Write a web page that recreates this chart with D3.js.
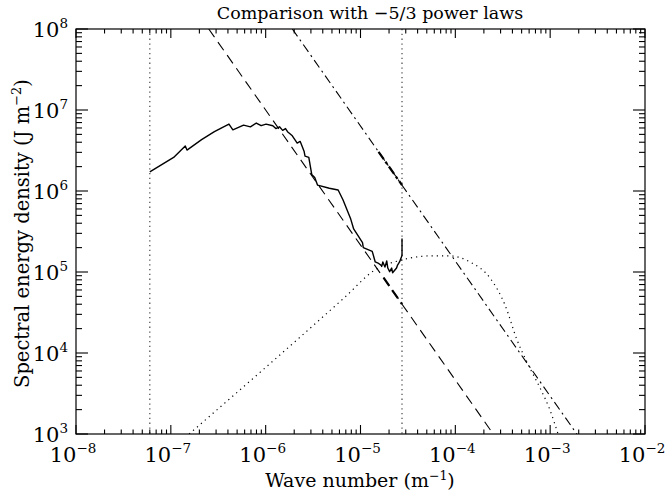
<!DOCTYPE html>
<html>
<head>
<meta charset="utf-8">
<script src="https://cdnjs.cloudflare.com/ajax/libs/d3/7.8.5/d3.min.js"></script>
<style>
  body { margin: 0; background: #fff; }
  text { font-family: "DejaVu Serif", serif; fill: #000; }
</style>
</head>
<body>
<svg id="chart" width="668" height="491"></svg>
<script>
// observed spectrum
var waveNumber = [6.0e-8, 1.07e-7, 1.42e-7, 1.48e-7, 2.11e-7, 2.88e-7, 4.10e-7, 4.51e-7, 5.85e-7, 6.91e-7,
  7.96e-7, 8.96e-7, 1.01e-6, 1.19e-6, 1.28e-6, 1.40e-6, 1.51e-6, 1.62e-6, 1.70e-6, 1.91e-6,
  2.15e-6, 2.31e-6, 2.54e-6, 2.60e-6, 2.85e-6, 3.06e-6, 3.29e-6, 3.53e-6, 4.69e-6, 5.81e-6,
  6.53e-6, 7.89e-6, 8.47e-6, 1.05e-5, 1.07e-5, 1.33e-5, 1.43e-5, 1.53e-5, 1.68e-5, 1.72e-5,
  1.81e-5, 1.89e-5, 1.94e-5, 2.03e-5, 2.13e-5, 2.18e-5, 2.40e-5, 2.46e-5, 2.58e-5, 2.74e-5, 2.74e-5];
var energy = [1.72e6, 2.6e6, 3.6e6, 3.2e6, 4.3e6, 5.4e6, 6.7e6, 5.7e6, 6.5e6, 6.2e6,
  6.9e6, 6.4e6, 6.7e6, 6.4e6, 5.9e6, 6.2e6, 5.6e6, 5.9e6, 5.4e6, 4.8e6,
  3.9e6, 4.1e6, 3.1e6, 2.7e6, 2.6e6, 1.6e6, 1.47e6, 1.18e6, 1.08e6, 1.03e6,
  7.8e5, 4.5e5, 3.4e5, 2.3e5, 2.0e5, 1.8e5, 1.33e5, 1.29e5, 1.19e5, 1.33e5,
  1.15e5, 1.37e5, 1.12e5, 1.01e5, 1.12e5, 9.8e4, 1.12e5, 1.22e5, 1.33e5, 1.6e5, 2.6e5];

// -5/3 power laws (end points) and the fitted stretch drawn heavier
var law1K = [2.51e-7, 2.51e-4], law1E = [1e8, 1e3];
var law2K = [1.91e-6, 1.91e-3], law2E = [1e8, 1e3];
var fit1K = [1.75e-5, 2.74e-5], fit1E = [8.5e4, 4.0e4];
var fit2K = [1.55e-5, 2.74e-5], fit2E = [3.05e6, 1.18e6];

// dotted model spectrum
var modelK = [1.56e-7, 6.87e-6, 1.42e-5, 2.74e-5, 5.41e-5, 8.79e-5, 1.43e-4, 2.32e-4, 3.34e-4, 4.47e-4, 5.83e-4, 7.82e-4, 9.95e-4, 1.21e-3];
var modelE = [1e3, 4.91e4, 1.06e5, 1.41e5, 1.58e5, 1.58e5, 1.33e5, 8.43e4, 3.92e4, 1.45e4, 7.3e3, 3.7e3, 1.98e3, 1e3];

// range limits
var limits = [6.0e-8, 2.74e-5];

var xTicks = [-8, -7, -6, -5, -4, -3, -2];
var yTicks = [3, 4, 5, 6, 7, 8];

var L = 76, R = 645, T = 29, B = 434;
var svg = d3.select("#chart");
var x = d3.scaleLog().domain([1e-8, 1e-2]).range([L, R]);
var y = d3.scaleLog().domain([1e3, 1e8]).range([B, T]);

svg.append("clipPath").attr("id", "clip")
  .append("rect").attr("x", L).attr("y", T).attr("width", R - L).attr("height", B - T);

var plot = svg.append("g").attr("clip-path", "url(#clip)");
var line = d3.line().x(d => x(d[0])).y(d => y(d[1]));

// vertical limits
limits.forEach(function (k) {
  plot.append("line").attr("x1", x(k)).attr("x2", x(k)).attr("y1", T).attr("y2", B)
    .attr("stroke", "#555").attr("stroke-width", 1.3).attr("stroke-dasharray", "1.3,3.5");
});

plot.append("path").datum(d3.zip(modelK, modelE)).attr("d", line.curve(d3.curveMonotoneX))
  .attr("fill", "none").attr("stroke", "#000").attr("stroke-width", 1.2).attr("stroke-dasharray", "1.2,4");
line.curve(d3.curveLinear);

plot.append("path").datum(d3.zip(law1K, law1E)).attr("d", line)
  .attr("fill", "none").attr("stroke", "#000").attr("stroke-width", 1.1).attr("stroke-dasharray", "10,6");
plot.append("path").datum(d3.zip(law2K, law2E)).attr("d", line)
  .attr("fill", "none").attr("stroke", "#000").attr("stroke-width", 1.1).attr("stroke-dasharray", "9,4,2,4");
plot.append("path").datum(d3.zip(fit1K, fit1E)).attr("d", line)
  .attr("fill", "none").attr("stroke", "#000").attr("stroke-width", 2.2).attr("stroke-dasharray", "10,5");
plot.append("path").datum(d3.zip(fit2K, fit2E)).attr("d", line)
  .attr("fill", "none").attr("stroke", "#000").attr("stroke-width", 2.2).attr("stroke-dasharray", "9,3,3,3");

plot.append("path").datum(d3.zip(waveNumber, energy)).attr("d", line)
  .attr("fill", "none").attr("stroke", "#000").attr("stroke-width", 1.4).attr("stroke-linejoin", "round");

// frame
svg.append("rect").attr("x", L).attr("y", T).attr("width", R - L).attr("height", B - T)
  .attr("fill", "none").attr("stroke", "#000").attr("stroke-width", 1.2);

// ticks
var xt = x.ticks(), yt = y.ticks();
var isMajor = v => Math.abs(Math.log10(v) - Math.round(Math.log10(v))) < 1e-6;
var tk = svg.append("g").attr("stroke", "#000").attr("stroke-width", 1.1);
xt.forEach(function (v) {
  var len = isMajor(v) ? 9 : 4.5;
  tk.append("line").attr("x1", x(v)).attr("x2", x(v)).attr("y1", B).attr("y2", B - len);
  tk.append("line").attr("x1", x(v)).attr("x2", x(v)).attr("y1", T).attr("y2", T + len);
});
yt.forEach(function (v) {
  var len = isMajor(v) ? 12 : 6;
  tk.append("line").attr("y1", y(v)).attr("y2", y(v)).attr("x1", L).attr("x2", L + len);
  tk.append("line").attr("y1", y(v)).attr("y2", y(v)).attr("x1", R).attr("x2", R - len);
});

function powLabel(g, e) {
  g.append("tspan").text("10");
  g.append("tspan").attr("dy", -9).attr("font-size", 13.5).text(e < 0 ? "\u2212" + (-e) : e);
}
xTicks.forEach(function (e) {
  var t = svg.append("text").attr("x", x(Math.pow(10, e)) - 3).attr("y", 462)
    .attr("text-anchor", "middle").attr("font-size", 21);
  powLabel(t, e);
});
yTicks.forEach(function (e) {
  var t = svg.append("text").attr("x", 68).attr("y", y(Math.pow(10, e)) + 8)
    .attr("text-anchor", "end").attr("font-size", 21);
  powLabel(t, e);
});

svg.append("text").attr("x", 370).attr("y", 19).attr("text-anchor", "middle")
  .attr("font-size", 17.5).text("Comparison with \u22125/3 power laws");

var xl = svg.append("text").attr("x", 360).attr("y", 487).attr("text-anchor", "middle").attr("font-size", 19);
xl.append("tspan").text("Wave number (m");
xl.append("tspan").attr("dy", -7).attr("font-size", 12.5).text("\u22121");
xl.append("tspan").attr("dy", 7).text(")");

var yl = svg.append("text").attr("transform", "translate(29," + ((T + B) / 2 + 2) + ") rotate(-90)")
  .attr("text-anchor", "middle").attr("font-size", 19.5);
yl.append("tspan").text("Spectral energy density (J m");
yl.append("tspan").attr("dy", -8).attr("font-size", 13).text("\u22122");
yl.append("tspan").attr("dy", 8).text(")");
</script>
</body>
</html>
